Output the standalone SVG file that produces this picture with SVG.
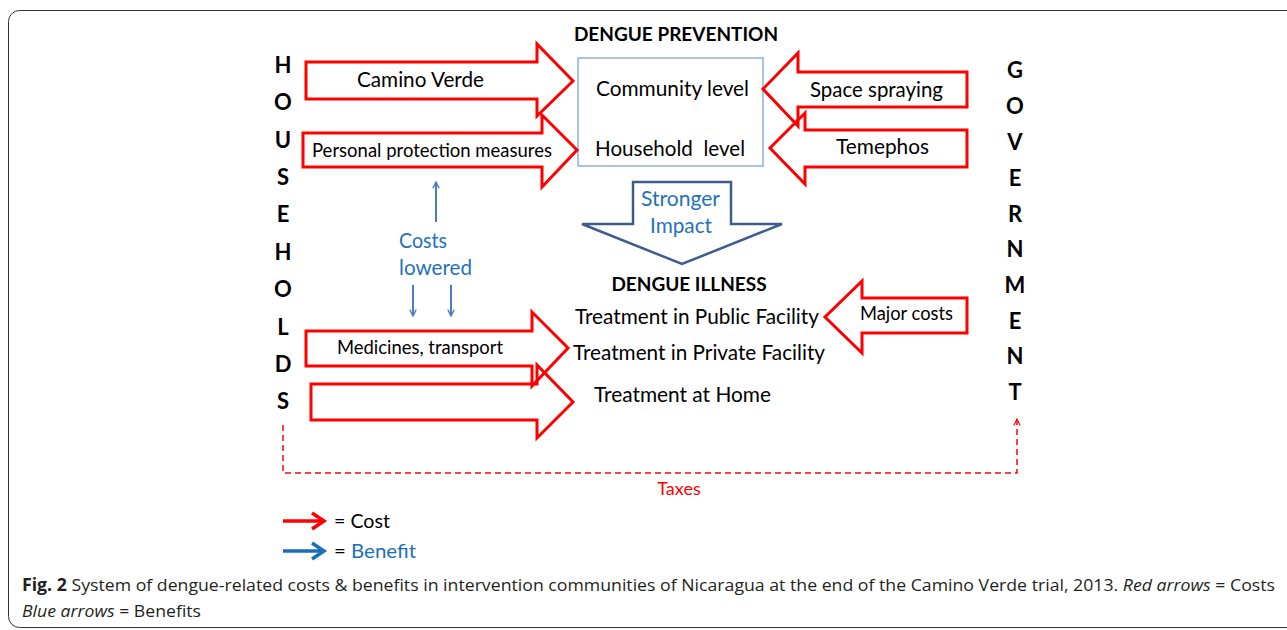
<svg xmlns="http://www.w3.org/2000/svg" width="1287" height="630" viewBox="0 0 1287 630">
<defs>
<style>
.t{font-family:Lato,"Open Sans","Liberation Sans",sans-serif;fill:#000}
.b{font-weight:bold}
.blue{fill:#1f72bd}
.cost{fill:none;stroke:#ff0000;stroke-width:3;stroke-linejoin:miter}
.ba{stroke:#4a7cbf;stroke-width:2;fill:none}
.cap{font-family:"Open Sans","Liberation Sans",sans-serif;font-size:17px;fill:#231f20}
</style>
<marker id="bh" viewBox="0 0 10 10" refX="9" refY="5" markerWidth="8" markerHeight="8" markerUnits="userSpaceOnUse" orient="auto">
<path d="M1,1 L9,5 L1,9" fill="none" stroke="#4a7cbf" stroke-width="1.6"/>
</marker>
<marker id="rh" viewBox="0 0 10 10" refX="9" refY="5" markerWidth="8" markerHeight="8" markerUnits="userSpaceOnUse" orient="auto">
<path d="M1,1 L9,5 L1,9" fill="none" stroke="#ff0000" stroke-width="1.4"/>
</marker>
</defs>
<rect x="8.5" y="10.5" width="1300" height="617" rx="11" fill="#fff" stroke="#333" stroke-width="1"/>

<g id="households">
<g class="t b" font-size="22" text-anchor="middle">
<text x="283" y="73">H</text><text x="283" y="110">O</text><text x="283" y="148">U</text><text x="283" y="185">S</text><text x="283" y="222">E</text><text x="283" y="260">H</text><text x="283" y="297">O</text><text x="283" y="335">L</text><text x="283" y="372">D</text><text x="283" y="409">S</text>
</g>
</g>
<g id="government">
<g class="t b" font-size="22" text-anchor="middle">
<text x="1015" y="78">G</text><text x="1015" y="114">O</text><text x="1015" y="150">V</text><text x="1015" y="186">E</text><text x="1015" y="222">R</text><text x="1015" y="257">N</text><text x="1015" y="293">M</text><text x="1015" y="329">E</text><text x="1015" y="364">N</text><text x="1015" y="400">T</text>
</g>
</g>

<g id="prevention">
<text class="t b" x="676" y="41" font-size="19" text-anchor="middle">DENGUE PREVENTION</text>
<rect x="578" y="58" width="185" height="108" fill="none" stroke="#8eaedb" stroke-width="1.5"/>
<text class="t" x="672.5" y="96" font-size="20.5" text-anchor="middle" textLength="153" lengthAdjust="spacingAndGlyphs">Community level</text>
<text class="t" x="670" y="156" font-size="20.5" text-anchor="middle" xml:space="preserve" textLength="150" lengthAdjust="spacingAndGlyphs">Household  level</text>
</g>

<g id="illness">
<text class="t b" x="689" y="291" font-size="19" text-anchor="middle">DENGUE ILLNESS</text>
<text class="t" x="697" y="324" font-size="20.5" text-anchor="middle" textLength="244" lengthAdjust="spacingAndGlyphs">Treatment in Public Facility</text>
<text class="t" x="699" y="360" font-size="20.5" text-anchor="middle" textLength="252" lengthAdjust="spacingAndGlyphs">Treatment in Private Facility</text>
<text class="t" x="682.5" y="402" font-size="20.5" text-anchor="middle" textLength="177" lengthAdjust="spacingAndGlyphs">Treatment at Home</text>
</g>

<g id="connectors">
<g id="camino-verde">
<path class="cost" d="M306,62 L537,62 L537,44 L573,81 L537,116 L537,99 L306,99 Z"/>
<text class="t" x="420.5" y="87" font-size="20.5" text-anchor="middle" textLength="127" lengthAdjust="spacingAndGlyphs">Camino Verde</text>
</g>
<g id="personal-protection">
<path class="cost" d="M303,133 L542,133 L542,115 L577,150 L542,187 L542,167 L303,167 Z"/>
<text class="t" x="432" y="157" font-size="18.5" text-anchor="middle" textLength="240" lengthAdjust="spacingAndGlyphs">Personal protection measures</text>
</g>
<g id="space-spraying">
<path class="cost" d="M967,72 L798,72 L798,53 L763,89 L798,126 L798,107 L967,107 Z"/>
<text class="t" x="876.5" y="97" font-size="20.5" text-anchor="middle" textLength="133" lengthAdjust="spacingAndGlyphs">Space spraying</text>
</g>
<g id="temephos">
<path class="cost" d="M967,130 L805,130 L805,113 L770,148 L805,184 L805,167 L967,167 Z"/>
<text class="t" x="882.5" y="154" font-size="20.5" text-anchor="middle" textLength="93" lengthAdjust="spacingAndGlyphs">Temephos</text>
</g>
<g id="stronger-impact">
<path d="M633,182 L731,182 L731,224 L782,224 L682,264 L582,224 L633,224 Z" fill="#fff" stroke="#3e5d8f" stroke-width="2.5" stroke-linejoin="miter"/>
<text class="t blue" x="680.5" y="206" font-size="20.5" text-anchor="middle" textLength="79" lengthAdjust="spacingAndGlyphs">Stronger</text>
<text class="t blue" x="681" y="233" font-size="20.5" text-anchor="middle" textLength="62" lengthAdjust="spacingAndGlyphs">Impact</text>
</g>
<g id="costs-lowered">
<line class="ba" x1="436" y1="222" x2="436" y2="182" marker-end="url(#bh)"/>
<line class="ba" x1="413" y1="285" x2="413" y2="316" marker-end="url(#bh)"/>
<line class="ba" x1="451" y1="285" x2="451" y2="316" marker-end="url(#bh)"/>
<text class="t blue" x="423" y="248" font-size="20.5" text-anchor="middle" textLength="48" lengthAdjust="spacingAndGlyphs">Costs</text>
<text class="t blue" x="435.5" y="275" font-size="20.5" text-anchor="middle" textLength="73" lengthAdjust="spacingAndGlyphs">lowered</text>
</g>
<g id="major-costs">
<path class="cost" d="M967,298 L862,298 L862,281 L825,317 L862,353 L862,333 L967,333 Z"/>
<text class="t" x="906.5" y="320" font-size="18.5" text-anchor="middle" textLength="93" lengthAdjust="spacingAndGlyphs">Major costs</text>
</g>
<g id="medicines">
<path class="cost" d="M306,331 L532,331 L532,312 L568,348 L532,386 L532,366 L306,366 Z"/>
<text class="t" x="420" y="354" font-size="18.5" text-anchor="middle" textLength="166" lengthAdjust="spacingAndGlyphs">Medicines, transport</text>
</g>
<g id="home-arrow">
<path class="cost" d="M311,384 L537,384 L537,365 L573,402 L537,438 L537,420 L311,420 Z"/>
</g>
<g id="taxes">
<path d="M283,425 L283,473 L1017,473 L1017,419" fill="none" stroke="#ff0000" stroke-width="1.5" stroke-dasharray="6,4" marker-end="url(#rh)"/>
<text x="679" y="495" font-family="Lato,'Open Sans',sans-serif" font-size="18" fill="#ff0000" text-anchor="middle">Taxes</text>
</g>
</g>

<g id="legend">
<line x1="283" y1="521" x2="323" y2="521" stroke="#ff0000" stroke-width="3.5"/>
<path d="M312,513 L324,521 L312,529" fill="none" stroke="#ff0000" stroke-width="3.5"/>
<text class="t" x="334" y="528" font-size="20" textLength="56" lengthAdjust="spacingAndGlyphs">= Cost</text>
<line x1="283" y1="551" x2="323" y2="551" stroke="#1a6fba" stroke-width="3.5"/>
<path d="M312,543 L324,551 L312,559" fill="none" stroke="#1a6fba" stroke-width="3.5"/>
<text class="t" x="334" y="558" font-size="20" textLength="82" lengthAdjust="spacingAndGlyphs">= <tspan fill="#1a6fba">Benefit</tspan></text>
</g>

<g id="caption">
<text class="cap" x="22" y="591" textLength="1253" lengthAdjust="spacingAndGlyphs"><tspan font-weight="bold">Fig. 2</tspan> System of dengue-related costs &amp; benefits in intervention communities of Nicaragua at the end of the Camino Verde trial, 2013. <tspan font-style="italic">Red arrows</tspan> = Costs</text>
<text class="cap" x="22" y="617" textLength="179" lengthAdjust="spacingAndGlyphs"><tspan font-style="italic">Blue arrows</tspan> = Benefits</text>
</g>
</svg>
